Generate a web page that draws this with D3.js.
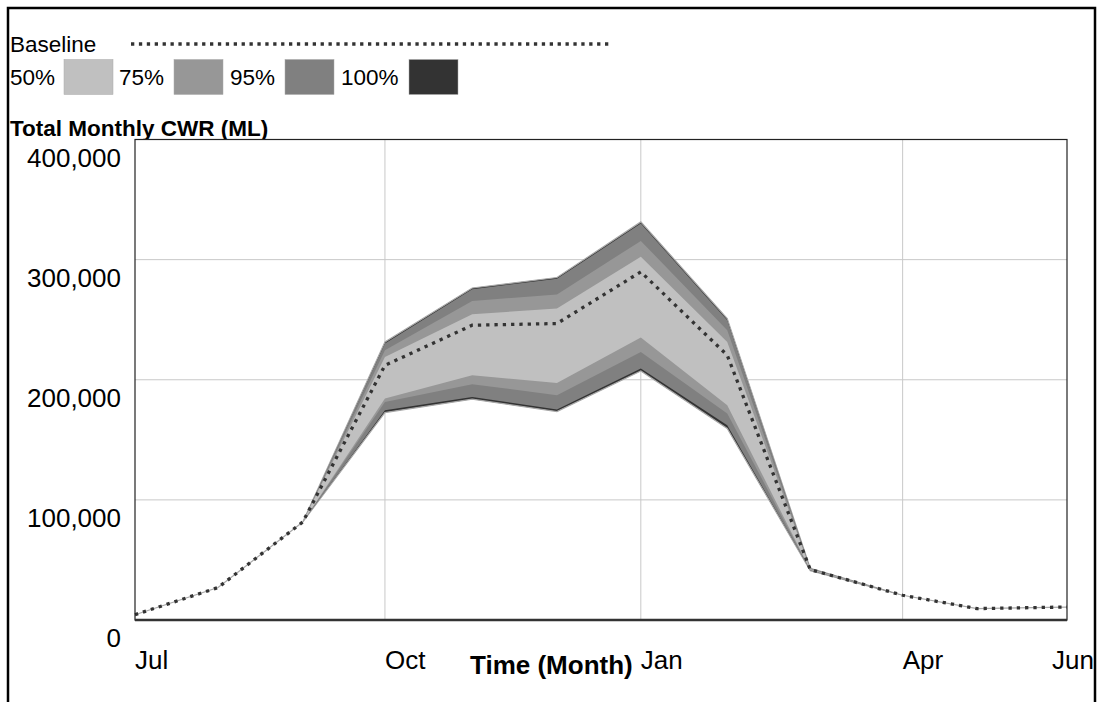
<!DOCTYPE html>
<html>
<head>
<meta charset="utf-8">
<script src="https://cdn.jsdelivr.net/npm/d3@7"></script>
<style>
  body { margin: 0; background: #fff; }
  svg text { font-family: "Liberation Sans", Arial, sans-serif; fill: #000; }
</style>
</head>
<body>
<div id="chart"></div>
<script>
// months (fractional month index from Jul)
var times = [0, 0.98, 1.98, 2.95, 3.98, 4.98, 5.97, 6.99, 7.97, 9.06, 9.94, 11];

// Total Monthly CWR (ML), thousands
var baseline = [4.4, 27, 81.6, 212, 245.4, 246.8, 289.8, 220.4, 42, 20.6, 9.5, 10.8];
var top100 = [4.4, 27, 81.6, 231.5, 276.4, 285.1, 331.4, 251.0, 43, 20.6, 9.5, 10.8];
var top95  = [4.4, 27, 81.6, 230.1, 275.4, 284.0, 330.0, 249.6, 43, 20.6, 9.5, 10.8];
var top75  = [4.4, 27, 81.6, 224.6, 265.6, 271.0, 315.6, 241.2, 42.6, 20.6, 9.5, 10.8];
var top50  = [4.4, 27, 81.6, 219.0, 254.5, 259.3, 302.3, 231.5, 42.3, 20.6, 9.5, 10.8];
var bot50  = [4.4, 27, 81.6, 184.3, 203.7, 197.3, 235.1, 178.8, 41.8, 20.6, 9.5, 10.8];
var bot75  = [4.4, 27, 81.6, 181.5, 196.3, 187.1, 223.1, 171.9, 41.5, 20.6, 9.5, 10.8];
var bot95  = [4.4, 27, 81.6, 174.6, 185.7, 175.2, 209.3, 162.1, 41.2, 20.6, 9.5, 10.8];
var bot100 = [4.4, 27, 81.6, 172.7, 183.8, 173.5, 207.3, 159.4, 41.0, 20.6, 9.5, 10.8];

var tickMonths = [0, 2.95, 5.97, 9.06];
var tickLabels = ["Jul", "Oct", "Jan", "Apr"];
var endLabel = "Jun";
var yTicks = [0, 100, 200, 300, 400];

var bandNames = ["50%", "75%", "95%", "100%"];
var bandColors = ["#c0c0c0", "#979797", "#808080", "#333333"];

var width = 1097, height = 702;
var margin = { top: 139.5, right: 30, bottom: 82, left: 135 };

var svg = d3.select("#chart").append("svg")
    .attr("width", width)
    .attr("height", height);

// outer frame
svg.append("path")
    .attr("d", `M8,${height} L8,8 L1095,8 L1095,${height}`)
    .attr("fill", "none")
    .attr("stroke", "#000")
    .attr("stroke-width", 2.5);

// legend
svg.append("text").attr("x", 10).attr("y", 52)
    .style("font-size", "22.5px").text("Baseline");
svg.append("line")
    .attr("x1", 131).attr("x2", 610).attr("y1", 44).attr("y2", 44)
    .attr("stroke", "#333").attr("stroke-width", 3.3)
    .attr("stroke-dasharray", "3.3,4.6");

var legendX = [10, 119, 230, 341];
var swatchX = [64, 174, 285, 409];
bandNames.forEach(function(n, i) {
    svg.append("text").attr("x", legendX[i]).attr("y", 85)
        .style("font-size", "22.5px").text(n);
    svg.append("rect")
        .attr("x", swatchX[i]).attr("y", 59.5)
        .attr("width", 49).attr("height", 35)
        .attr("fill", bandColors[i])
        .attr("stroke", "#aaa").attr("stroke-width", 0.5);
});

svg.append("text").attr("x", 10).attr("y", 136)
    .style("font-size", "22.5px").style("font-weight", "bold")
    .text("Total Monthly CWR (ML)");

var x = d3.scaleLinear().domain([0, 11]).range([margin.left, width - margin.right]);
var y = d3.scaleLinear().domain([0, 400]).range([height - margin.bottom, margin.top]);

// plot background
svg.append("rect")
    .attr("x", x(0)).attr("y", y(400))
    .attr("width", x(11) - x(0)).attr("height", y(0) - y(400))
    .attr("fill", "#fff");

// grid
svg.append("g").selectAll("line").data(yTicks.slice(1, 4)).enter().append("line")
    .attr("x1", x(0)).attr("x2", x(11))
    .attr("y1", d => y(d)).attr("y2", d => y(d))
    .attr("stroke", "#c8c8c8").attr("stroke-width", 1);
svg.append("g").selectAll("line").data(tickMonths.slice(1)).enter().append("line")
    .attr("x1", d => x(d)).attr("x2", d => x(d))
    .attr("y1", y(0)).attr("y2", y(400))
    .attr("stroke", "#c8c8c8").attr("stroke-width", 1);

// bands, outermost first
var idx = d3.range(times.length);
var bands = [
    { lo: bot100, hi: top100, c: bandColors[3] },
    { lo: bot95, hi: top95, c: bandColors[2] },
    { lo: bot75, hi: top75, c: bandColors[1] },
    { lo: bot50, hi: top50, c: bandColors[0] }
];
bands.forEach(function(b, k) {
    var area = d3.area()
        .x(i => x(times[i]))
        .y0(i => y(b.lo[i]))
        .y1(i => y(b.hi[i]));
    svg.append("path")
        .attr("d", area(idx))
        .attr("fill", b.c)
        .attr("stroke", k == 0 ? "#a8a8a8" : "none")
        .attr("stroke-width", 1.2);
});

// baseline
var line = d3.line().x(i => x(times[i])).y(i => y(baseline[i]));
svg.append("path")
    .attr("d", line(idx))
    .attr("fill", "none")
    .attr("stroke", "#333")
    .attr("stroke-width", 3.3)
    .attr("stroke-dasharray", "3.3,5");

// plot frame
svg.append("rect")
    .attr("x", x(0)).attr("y", y(400))
    .attr("width", x(11) - x(0)).attr("height", y(0) - y(400))
    .attr("fill", "none").attr("stroke", "#222").attr("stroke-width", 1.2);
svg.append("line")
    .attr("x1", x(0)).attr("x2", x(11)).attr("y1", y(0)).attr("y2", y(0))
    .attr("stroke", "#333").attr("stroke-width", 2.4);

// y labels (drawn under each gridline)
var fmt = d3.format(",");
svg.append("g").selectAll("text").data(yTicks).enter().append("text")
    .attr("x", 121)
    .attr("y", d => y(d) + 27)
    .attr("text-anchor", "end")
    .style("font-size", "26px")
    .text(d => fmt(d * 1000));

// x labels
svg.append("g").selectAll("text").data(tickMonths).enter().append("text")
    .attr("x", d => x(d))
    .attr("y", 669)
    .style("font-size", "26px")
    .text((d, i) => tickLabels[i]);
svg.append("text")
    .attr("x", 1094).attr("y", 669)
    .attr("text-anchor", "end")
    .style("font-size", "26px")
    .text(endLabel);

svg.append("text")
    .attr("x", 470).attr("y", 674)
    .style("font-size", "26px").style("font-weight", "bold")
    .text("Time (Month)");
</script>
</body>
</html>
